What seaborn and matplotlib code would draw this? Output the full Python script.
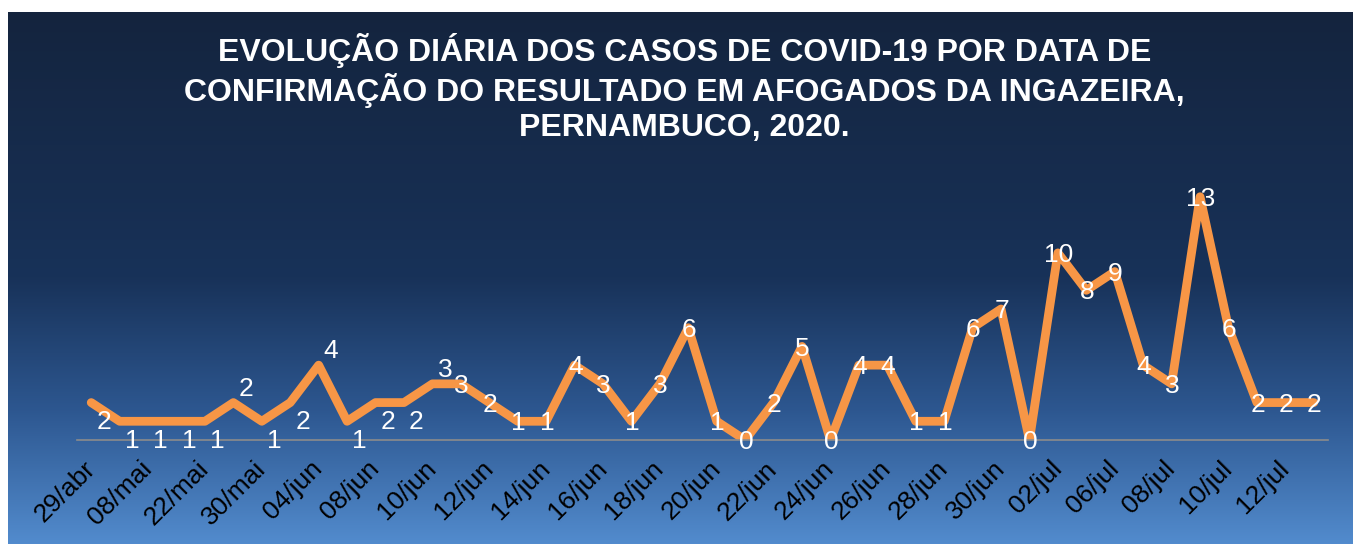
import numpy as np
import seaborn as sb
import matplotlib.pyplot as plt
from matplotlib.colors import LinearSegmentedColormap

# casos confirmados por dia (um ponto por data de confirmação)
casos = [2, 1, 1, 1, 1, 2, 1, 2, 4, 1, 2, 2, 3, 3, 2, 1, 1, 4, 3, 1, 3, 6,
         1, 0, 2, 5, 0, 4, 4, 1, 1, 6, 7, 0, 10, 8, 9, 4, 3, 13, 6, 2, 2, 2]

# rótulos do eixo x (aparecem a cada 2 datas)
datas_eixo = ['29/abr', '08/mai', '22/mai', '30/mai', '04/jun', '08/jun', '10/jun',
              '12/jun', '14/jun', '16/jun', '18/jun', '20/jun', '22/jun', '24/jun',
              '26/jun', '28/jun', '30/jun', '02/jul', '06/jul', '08/jul', '10/jul',
              '12/jul']

# onde fica o rótulo de cada ponto: b = abaixo, a = acima, c = centro
pos_rotulo = list('bbbbbabbabbba') + ['c'] * 31

titulo = ('EVOLUÇÃO DIÁRIA DOS CASOS DE COVID-19 POR DATA DE\n'
          'CONFIRMAÇÃO DO RESULTADO EM AFOGADOS DA INGAZEIRA,\n'
          'PERNAMBUCO, 2020.')

sb.set_style('white')
plt.rcParams['font.family'] = ['Liberation Sans', 'DejaVu Sans']

W, H = 1356, 544
fig = plt.figure(figsize=(W / 100, H / 100), dpi=100)
fig.patch.set_facecolor('white')

# fundo em degradê azul
bg = fig.add_axes([8 / W, 0, (1353 - 8) / W, (H - 12) / H])
cmap = LinearSegmentedColormap.from_list(
    'fundo', [(0, '#14243e'), (0.5, '#183259'), (0.75, '#2d5790'), (1, '#528bcd')])
bg.imshow(np.linspace(0, 1, 256).reshape(-1, 1), aspect='auto', cmap=cmap,
          extent=[0, 1, 1, 0])
bg.axis('off')

ax = fig.add_axes([77 / W, (H - 440) / H, 1251 / W, (440 - 178) / H])
ax.patch.set_alpha(0)

x = np.arange(len(casos))
sb.lineplot(x=x, y=casos, ax=ax, color='#f79646', linewidth=6.3)
for ln in ax.lines:
    ln.set_solid_capstyle('round')
    ln.set_solid_joinstyle('round')

desloc = {'b': (9, -14), 'a': (9, 10), 'c': (0.5, -1.5)}
for xi, yi, p in zip(x, casos, pos_rotulo):
    ax.annotate(str(yi), (xi, yi), xytext=desloc[p], textcoords='offset points',
                ha='center', va='center', color='white', fontsize=19)

ax.set_xlim(-0.5, len(casos) - 0.5)
ax.set_ylim(0, 14)
ax.set_xticks(x[::2])
ax.set_xticklabels(datas_eixo, rotation=45, ha='right', va='center',
                   rotation_mode='anchor', fontsize=19, color='black')
ax.tick_params(axis='x', length=0, pad=18)
ax.set_yticks([])
for s in ['top', 'right', 'left']:
    ax.spines[s].set_visible(False)
ax.spines['bottom'].set_color('#8c8c8c')
ax.spines['bottom'].set_linewidth(1.2)
ax.set_xlabel('')
ax.set_ylabel('')

fig.text(0.505, 1 - 88 / H, titulo, ha='center', va='center', color='white',
         fontsize=23, fontweight='bold', linespacing=1.18)

fig.savefig('out.png', dpi=100)
